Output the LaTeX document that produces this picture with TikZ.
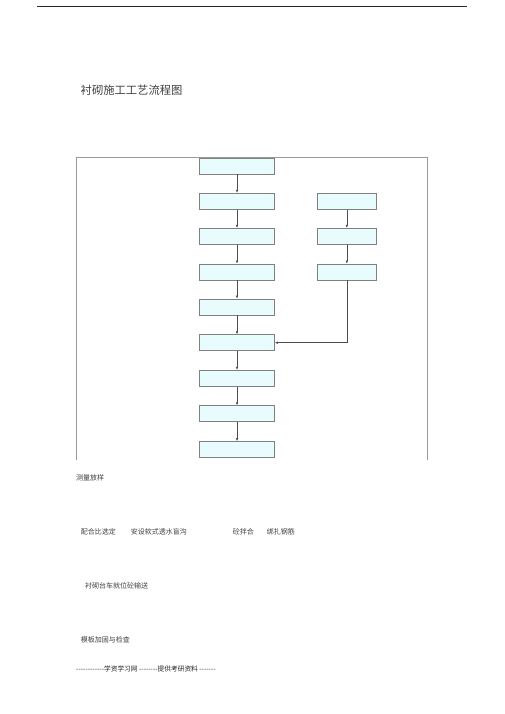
\documentclass[tikz,border=0pt]{standalone}
\usepackage{fontspec}
\setmainfont{Liberation Serif}
\newfontfamily\cjk{Noto Sans CJK SC}
\usetikzlibrary{arrows.meta}
\definecolor{boxfill}{HTML}{E8FBFD}
\definecolor{boxline}{HTML}{808080}
\definecolor{txt}{HTML}{404040}
\begin{document}
\begin{tikzpicture}[x=1pt,y=-1pt,
  stepbox/.style={draw=boxline,fill=boxfill,line width=0.8pt,minimum width=75pt,minimum height=16pt,inner sep=0pt},
  conn/.style={draw=black!70,line width=0.5pt,-{Latex[length=3pt,width=2.5pt]}},
  label/.style={anchor=west,inner sep=0pt,font=\cjk\fontsize{7}{8}\selectfont,text=txt}]
\useasboundingbox (0,0) rectangle (505,714);
\fill[white] (0,0) rectangle (505,714);
% top rule
\coordinate (r1) at (37,6);
\coordinate (r2) at (467,6);
\draw[line width=0.8pt,black!85] (r1) -- (r2);
% title
\node[anchor=west,inner sep=0pt,font=\cjk\fontsize{11.3}{13}\selectfont,text=txt] (title) at (80.5,90) {衬砌施工工艺流程图};
% frame
\coordinate (f1) at (76,460);
\coordinate (f2) at (76,157);
\coordinate (f3) at (427,157);
\coordinate (f4) at (427,460);
\draw[boxline!80,line width=0.6pt] (f1) -- (f2) -- (f3) -- (f4);
% main column
\foreach \i/\y in {1/166,2/201.3,3/236.3,4/272,5/307,6/342.7,7/378.3,8/413.7,9/449.5}{
  \node[stepbox] (m\i) at (237,\y) {};
}
% right column
\foreach \i/\y in {1/201.3,2/236.3,3/272}{
  \node[stepbox,minimum width=58.5pt] (s\i) at (346.8,\y) {};
}
\draw[conn,line width=0.9pt] (m1) -- (m2);
\foreach \a/\b in {2/3,3/4,4/5,5/6,6/7,7/8,8/9}{
  \draw[conn] (m\a) -- (m\b);
}
\draw[conn] (s1) -- (s2);
\draw[conn] (s2) -- (s3);
\draw[conn] (s3.south) |- (m6.east);
% texts below
\node[label] (t1) at (76,478) {测量放样};
\node[label] (t2) at (80.7,532) {配合比选定};
\node[label] (t3) at (130.7,532) {安设软式透水盲沟};
\node[label] (t4) at (232.7,532) {砼拌合};
\node[label] (t5) at (266.7,532) {绑扎钢筋};
\node[label] (t6) at (85,586) {衬砌台车就位砼输送};
\node[label] (t7) at (80.7,639.5) {模板加固与检查};
\node[label,font=\cjk\fontsize{6.7}{7}\selectfont,text=black!85] (t8) at (76,669) {------------学资学习网 --------提供考研资料 -------};
\end{tikzpicture}
\end{document}
